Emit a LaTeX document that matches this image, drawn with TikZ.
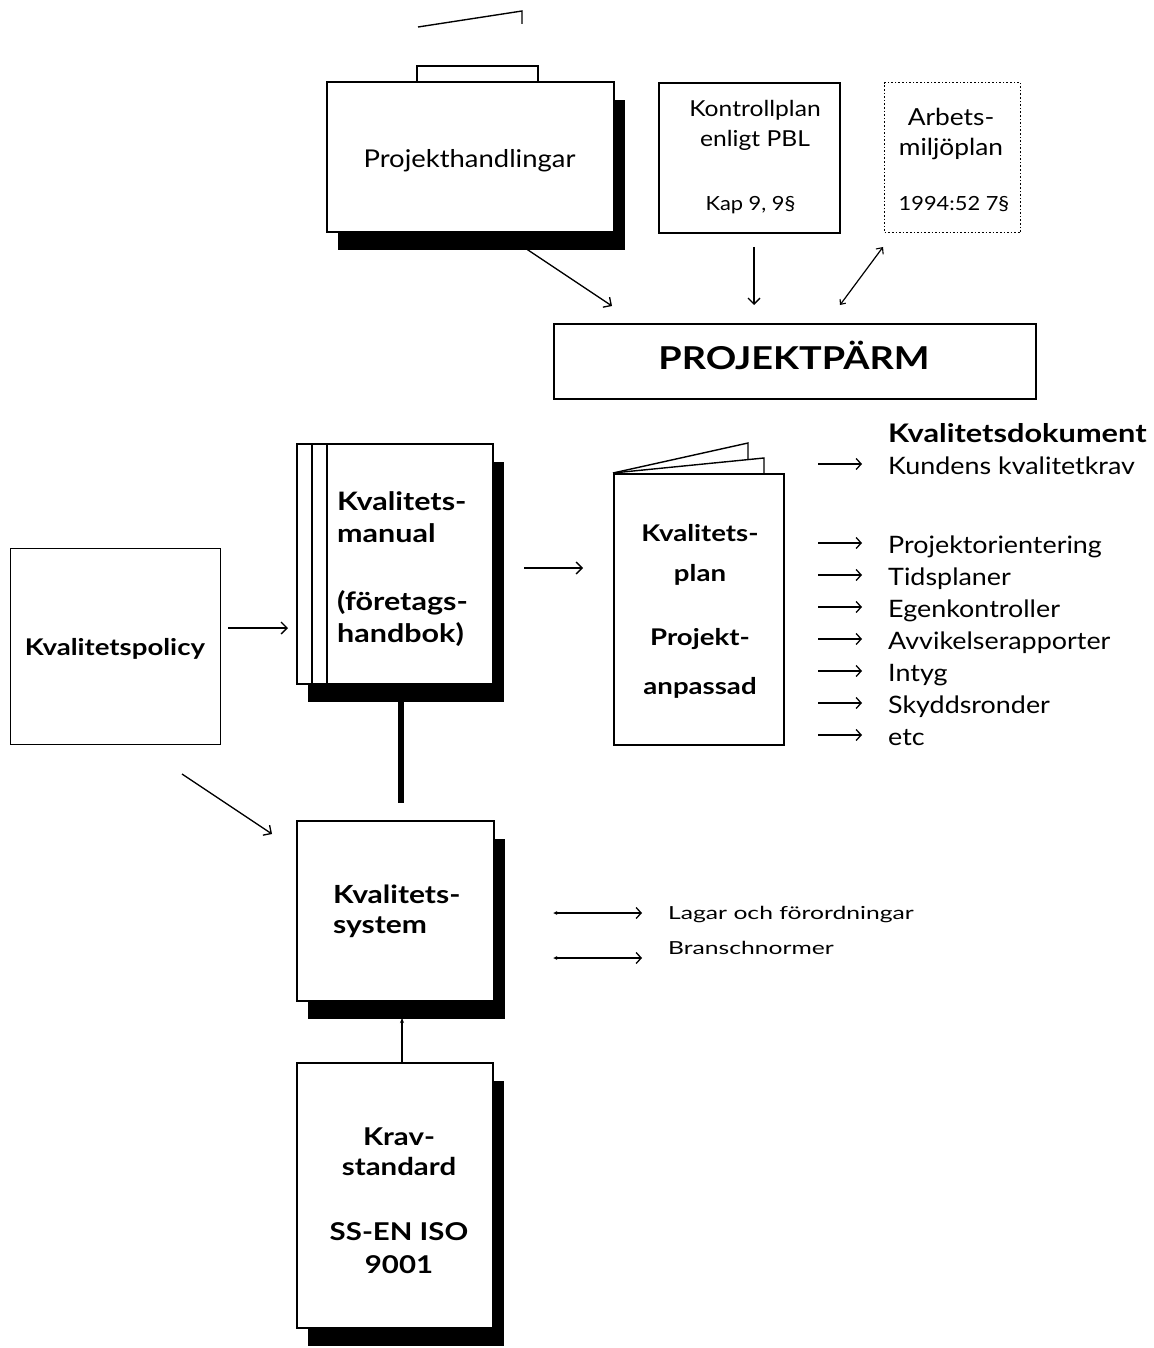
\documentclass[tikz,border=0pt]{standalone}
\usepackage{fontspec}
\setmainfont{Lato}[FakeStretch=1.12,BoldFeatures={FakeStretch=1.2}]
\newfontfamily\lawfont{Lato}[FakeStretch=1.37]
\usetikzlibrary{arrows.meta,shadows,calc}
\begin{document}
\begin{tikzpicture}[x=1pt,y=-1pt,
  box/.style={draw,fill=white,line width=1.6pt,inner sep=0pt,anchor=north west},
  shad/.style={drop shadow={shadow xshift=11pt,shadow yshift=-18pt,fill=black,opacity=1}},
  arr/.style={line width=1.3pt,-{Straight Barb[length=6pt,width=12pt,line width=1.3pt]}},
  listarr/.style={line width=1.3pt,-{Straight Barb[length=5pt,width=11pt,line width=1.3pt]}},
  dbl/.style={line width=1.2pt,{Straight Barb[length=4pt,width=7pt,line width=1.1pt]}-{Straight Barb[length=5pt,width=9pt,line width=1.1pt]}},
  lawarr/.style={line width=1.3pt,{Latex[length=4pt,width=4pt]}-{Straight Barb[length=5pt,width=11pt,line width=1.3pt]}},
  txt/.style={inner sep=0pt,anchor=base},
  ltxt/.style={inner sep=0pt,anchor=base west},
  fproj/.style={font=\fontsize{24.5pt}{30pt}\selectfont},
  fkp/.style={font=\fontsize{22pt}{26pt}\selectfont},
  fam/.style={font=\fontsize{23.5pt}{27pt}\selectfont},
  fsmall/.style={font=\fontsize{19.5pt}{24pt}\selectfont},
  flist/.style={font=\fontsize{24pt}{28pt}\selectfont},
  flaw/.style={font=\lawfont\fontsize{18pt}{21pt}\selectfont},
  b25/.style={font=\fontsize{25pt}{30pt}\selectfont\bfseries},
  bman/.style={font=\fontsize{25.4pt}{30pt}\selectfont\bfseries},
  bkrav/.style={font=\fontsize{24.5pt}{30pt}\selectfont\bfseries},
  b23/.style={font=\fontsize{23pt}{27pt}\selectfont\bfseries},
  bdoc/.style={font=\fontsize{25.6pt}{30pt}\selectfont\bfseries},
  bpp/.style={font=\fontsize{31.5pt}{36pt}\selectfont\bfseries},
]
\fill[white] (0,0) rectangle (1153,1348);
\useasboundingbox (0,0) rectangle (1153,1348);

% stray line at top
\coordinate (s1) at (418,27);
\coordinate (s2) at (522,11);
\coordinate (s3) at (522,24);
\draw[line width=1.4pt] (s1) -- (s2) -- (s3);

% Projekthandlingar (folder)
\draw[line width=1.4pt,fill=white] (417,81) -- (417,66) -- (538,66) -- (538,81);
\node[box,shad,minimum width=287pt,minimum height=150pt] (proj) at (326,81) {};
\node[txt,fproj] (projt) at (469.5,168) {Projekthandlingar};

% Kontrollplan
\node[box,minimum width=181pt,minimum height=150pt] (kp) at (658,82) {};
\node[txt,fkp] (kp1) at (755,117) {Kontrollplan};
\node[txt,fkp] (kp2) at (755,147) {enligt PBL};
\node[txt,fsmall] (kp3) at (750.5,211) {Kap 9, 9§};

% Arbetsmiljoplan (dotted)
\node[box,dotted,line width=1.4pt,minimum width=136pt,minimum height=150pt] (am) at (884,82) {};
\node[txt,fam] (am1) at (951,126) {Arbets-};
\node[txt,fam] (am2) at (951,156) {miljöplan};
\node[txt,fsmall] (am3) at (954,211) {1994:52 7§};

% Projektparm
\node[box,minimum width=482pt,minimum height=75pt] (pp) at (553,323) {};
\node[txt,bpp] (ppt) at (794,369) {PROJEKTPÄRM};

% arrows to Projektparm
\coordinate (a1s) at (525,248);
\coordinate (a1e) at (612,306);
\draw[arr] (a1s) -- (a1e);
\coordinate (a2s) at (754,247);
\coordinate (a2e) at (754,305);
\draw[arr] (a2s) -- (a2e);
\coordinate (a3s) at (840,305);
\coordinate (a3e) at (883,247);
\draw[dbl] (a3s) -- (a3e);

% Kvalitetspolicy
\node[box,line width=1.4pt,minimum width=210pt,minimum height=196pt] (pol) at (10,548) {};
\node[txt,b23] (polt) at (115,655) {Kvalitetspolicy};

% Kvalitetsmanual (stack)
\node[box,shad,minimum width=196pt,minimum height=240pt] (man) at (296,443) {};
\draw[line width=1.4pt] ($(man.north west)+(16,0)$) -- ($(man.south west)+(16,0)$);
\draw[line width=1.4pt] ($(man.north west)+(31,0)$) -- ($(man.south west)+(31,0)$);
\node[ltxt,bman] (man1) at (337,510) {Kvalitets-};
\node[ltxt,bman] (man2) at (337,542) {manual};
\node[ltxt,bman] (man3) at (337,610) {(företags-};
\node[ltxt,bman] (man4) at (337,642) {handbok)};

\coordinate (a4s) at (228,628);
\coordinate (a4e) at (288,628);
\draw[arr] (a4s) -- (a4e);

% Kvalitetsplan (booklet)
\draw[line width=1.4pt,fill=white] (613,473) -- (748,443) -- (748,460);
\draw[line width=1.4pt,fill=white] (613,473) -- (764,458) -- (764,473);
\node[box,minimum width=170pt,minimum height=271pt] (plan) at (613,473) {};
\node[txt,b23] (plan1) at (700,541) {Kvalitets-};
\node[txt,b23] (plan2) at (700,581) {plan};
\node[txt,b23] (plan3) at (700,645) {Projekt-};
\node[txt,b23] (plan4) at (700,694) {anpassad};

\coordinate (a5s) at (524,568);
\coordinate (a5e) at (583,568);
\draw[arr] (a5s) -- (a5e);

% Kvalitetsdokument list
\node[ltxt,bdoc] (kd) at (888,442) {Kvalitetsdokument};
\foreach \n/\t/\yb in {l1/Kundens kvalitetkrav/474, l2/Projektorientering/553, l3/Tidsplaner/585, l4/Egenkontroller/617, l5/Avvikelserapporter/649, l6/Intyg/681, l7/Skyddsronder/713, l8/etc/745}{
  \node[ltxt,flist] (\n) at (888,\yb) {\t};
  \coordinate (\n s) at (818,\yb-10);
  \coordinate (\n e) at (862,\yb-10);
  \draw[listarr] (\n s) -- (\n e);
}

% Kvalitetssystem
\node[box,shad,minimum width=197pt,minimum height=180pt] (sys) at (296,820) {};
\node[ltxt,b25] (sys1) at (333,903) {Kvalitets-};
\node[ltxt,b25] (sys2) at (333,933) {system};

\coordinate (a6s) at (182,774);
\coordinate (a6e) at (272,834);
\draw[arr] (a6s) -- (a6e);

% thick connector manual - system
\coordinate (t1) at (401,702);
\coordinate (t2) at (401,803);
\draw[line width=6pt] (t1) -- (t2);

% Lagar / Branschnormer
\coordinate (b1s) at (553,913);
\coordinate (b1e) at (642,913);
\draw[lawarr] (b1s) -- (b1e);
\coordinate (b2s) at (553,958);
\coordinate (b2e) at (642,958);
\draw[lawarr] (b2s) -- (b2e);
\node[ltxt,flaw] (lag) at (668,919) {Lagar och förordningar};
\node[ltxt,flaw] (bra) at (668,954) {Branschnormer};

% Kravstandard
\node[box,shad,minimum width=196pt,minimum height=265pt] (krav) at (296,1062) {};
\node[txt,bkrav] (k1) at (399,1145) {Krav-};
\node[txt,bkrav] (k2) at (399,1175) {standard};
\node[txt,bkrav] (k3) at (399,1240) {SS-EN ISO};
\node[txt,bkrav] (k4) at (399,1273) {9001};

\coordinate (a7s) at (402,1062);
\coordinate (a7e) at (402,1018);
\draw[line width=1.3pt,-{Stealth[length=5pt,width=4pt]}] (a7s) -- (a7e);
\end{tikzpicture}
\end{document}
